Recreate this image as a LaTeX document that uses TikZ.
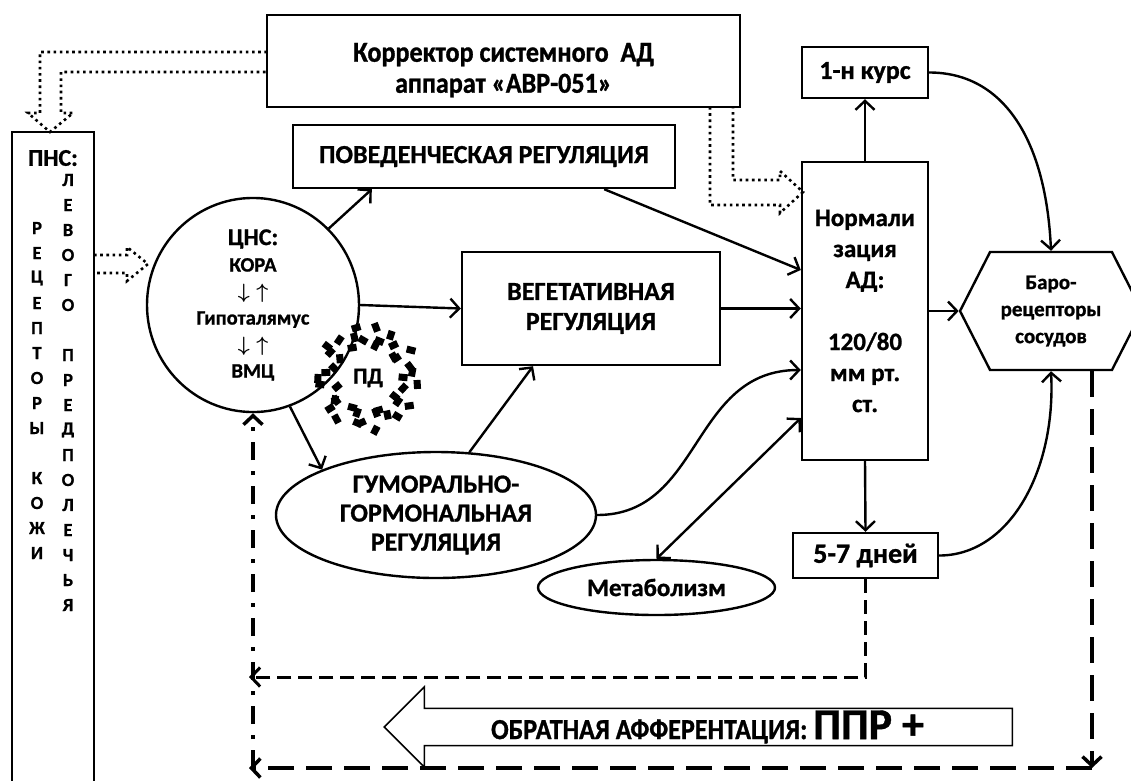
\documentclass[tikz,border=0pt]{standalone}
\usepackage{fontspec}
\setmainfont{Carlito}[BoldFeatures={FakeBold=1}]
\newfontfamily\cond{Carlito}[FakeStretch=0.9,BoldFeatures={FakeBold=1}]
\usetikzlibrary{positioning,shapes.geometric,shapes.symbols,shapes.arrows,arrows.meta}

\newcommand\fsz[2]{\fontsize{#1}{#2}\selectfont}
\newcommand\duarr{{\boldmath$\downarrow\;\uparrow$}}

\begin{document}
\begin{tikzpicture}[x=1pt,y=-1pt,line width=2.4pt,
  box/.style={draw,inner sep=0pt,align=center,font=\bfseries},
  oval/.style={draw,ellipse,inner sep=0pt,align=center,font=\bfseries},
  tip/.style={-{Straight Barb[length=9pt,width=19pt]}},
  dotline/.style={line width=2.6pt,dash pattern=on 2.6pt off 3.6pt},
  meddash/.style={line width=3pt,dash pattern=on 14pt off 7pt,tip},
  bigdash/.style={line width=3.5pt,dash pattern=on 26pt off 12pt,tip},
  dashdot/.style={line width=3.5pt,dash pattern=on 18pt off 11pt on 4pt off 11pt,tip},
  letter/.style={inner sep=0pt,font=\fsz{18.5}{20}\bfseries}]

\useasboundingbox (0,0) rectangle (1131,780);

% boxes
\node[box,minimum width=473,minimum height=92,font=\cond\fsz{29}{31}\bfseries] (korr) at (503.5,61)
  {\rule{0pt}{37pt}Корректор системного\ \ АД\\аппарат «АВР-051»};
\node[box,minimum width=82,minimum height=662] (pns) at (53,463) {};
\node[inner sep=0pt,font=\fsz{24}{26}\bfseries] (pnsT) at (53,158) {ПНС:};
\foreach \c [count=\i] in {Л,Е,В,О,Г,О,{},П,Р,Е,Д,П,О,Л,Е,Ч,Ь,Я}
  \node[letter] (r\i) at (68,155+25*\i) {\c};
\foreach \c [count=\i] in {Р,Е,Ц,Е,П,Т,О,Р,Ы,{},К,О,Ж,И}
  \node[letter] (l\i) at (37,203+25*\i) {\c};

\node[oval,minimum width=212,minimum height=190,font=\fsz{20.5}{26.5}\bfseries] (cns) at (253,305)
  {{\fsz{24}{26.5}ЦНС:}\\КОРА\\\duarr\\Гипоталямус\\\duarr\\ВМЦ};
\node[box,minimum width=382,minimum height=63,font=\fsz{26}{28}\bfseries] (beh) at (484,156.5) {ПОВЕДЕНЧЕСКАЯ РЕГУЛЯЦИЯ};
\node[box,minimum width=258,minimum height=113,font=\fsz{26}{30}\bfseries] (veg) at (591,308.5) {ВЕГЕТАТИВНАЯ\\РЕГУЛЯЦИЯ};
\node[box,minimum width=126,minimum height=298,font=\fsz{25}{31}\bfseries] (norm) at (865,311)
  {Нормали\\зация\\АД:\\\mbox{}\\120/80\\мм рт.\\ст.};
\node[box,minimum width=126,minimum height=51,font=\fsz{26}{28}\bfseries] (kurs) at (865,72.5) {1-н курс};
\node[box,minimum width=145,minimum height=45,font=\fsz{28}{30}\bfseries] (days) at (865.5,555.5) {5-7 дней};
\node[draw,signal,signal to=west and east,signal pointer angle=126,minimum width=182,minimum height=118,
  inner sep=0pt,align=center,font=\fsz{21}{27}\bfseries] (baro) at (1051,311) {Баро-\\рецепторы\\сосудов};
\node[oval,minimum width=320,minimum height=126,font=\fsz{26}{29}\bfseries] (hum) at (436,515) {ГУМОРАЛЬНО-\\ГОРМОНАЛЬНАЯ\\РЕГУЛЯЦИЯ};
\node[oval,minimum width=237,minimum height=55,font=\fsz{25}{27}\bfseries] (met) at (656.5,587.5) {Метаболизм};

% ПД
\foreach \k in {1,...,42}{
  \pgfmathsetmacro\ang{\k*360/42+10*sin(\k*137)}
  \pgfmathsetmacro\rr{0.88+0.2*sin(\k*211)}
  \pgfmathsetmacro\px{368+47*\rr*cos(\ang)}
  \pgfmathsetmacro\py{378+49*\rr*sin(\ang)}
  \fill[shift={(\px,\py)},rotate=\k*47] (-4.5,-3.5) rectangle (4.5,3.5);
}
\node[inner sep=0pt,font=\fsz{23}{26}\bfseries] (pd) at (368,378) {ПД};

% dotted hollow arrows
\draw[dotline] (267,52)--(40,52)--(40,113)--(28,113)--(50,132)--(73,113)--(61,113)--(61,72)--(267,72);
\draw[dotline] (94,255)--(127,255)--(127,247)--(148,264)--(127,281)--(127,273)--(94,273);
\draw[dotline] (710,107)--(710,205)--(780,205)--(780,213)--(803,192)--(780,171)--(780,180)--(733,180)--(733,107);

% connectors
\draw[tip] (cns.north east) -- ([xshift=80]beh.south west);
\draw[tip] (cns.east) -- (veg.west);
\draw[tip] (cns.-70) -- (hum.north west);
\draw[tip] (hum.62) -- ([xshift=-58]veg.south);
\draw[tip] (hum.east) .. controls +(105,0) and +(-110,0) .. ([yshift=-59]norm.west);
\draw[{Straight Barb[length=9pt,width=19pt]}-{Straight Barb[length=9pt,width=19pt]}] (met.north) -- ([yshift=-107]norm.west);
\draw[tip] ([xshift=-72]beh.south east) -- ([yshift=41]norm.west);
\draw[tip] (veg.east) -- (veg.east -| norm.west);
\draw[tip] (norm.north) -- (kurs.south);
\draw[tip] (norm.south) -- (days.north);
\draw[tip] (norm.east) -- (baro.west);
\draw[tip] (kurs.east) .. controls +(75,0) and +(-5,-110) .. (baro.north);
\draw[tip] (days.east) .. controls +(70,0) and +(5,100) .. (baro.south);

% feedback
\coordinate (fb1) at (249,677);
\coordinate (fb2) at (1092,768);
\coordinate (fb3) at (249,768);
\draw[meddash] (days.south) |- (fb1);
\draw[bigdash] (baro.south -| fb2) -- (fb2);
\draw[bigdash] (fb2) -- (fb3);
\draw[dashdot] (cns.south |- fb3) -- (cns.south);

\node[draw,single arrow,shape border rotate=180,line width=1.5pt,minimum height=628,minimum width=80,
  single arrow head extend=20,single arrow tip angle=90,inner sep=0pt,font=\cond\fsz{29}{31}\bfseries]
  (oaf) at (707.5,727) {ОБРАТНАЯ АФФЕРЕНТАЦИЯ: {\fontspec{Carlito}[FakeBold=1]\fsz{44}{46}ППР +}};
\end{tikzpicture}
\end{document}
